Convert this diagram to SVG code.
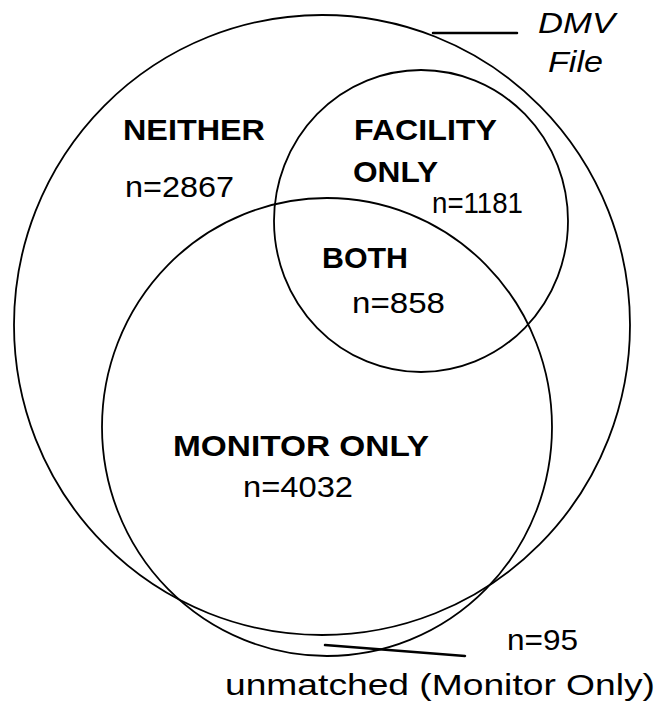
<svg xmlns="http://www.w3.org/2000/svg" width="657" height="706" viewBox="0 0 657 706">
<style>
.set{fill:none;stroke:#000;stroke-width:1.8}
.lead{stroke:#000;stroke-width:2.5;fill:none;stroke-linecap:round}
.b{font-family:"Liberation Sans",Arial,sans-serif;font-weight:bold;font-size:30px;fill:#000}
.n{font-family:"Liberation Sans",Arial,sans-serif;font-size:30px;fill:#000}
.it{font-family:"Liberation Sans",Arial,sans-serif;font-style:italic;font-size:29px;fill:#000}
</style>
<rect width="657" height="706" fill="#fff"/>
<g id="dmv-file">
<ellipse class="set" cx="322" cy="325" rx="308" ry="310"/>
<text class="it" x="538" y="33" textLength="77" lengthAdjust="spacingAndGlyphs">DMV</text>
<text class="it" x="548" y="72" textLength="55" lengthAdjust="spacingAndGlyphs">File</text>
</g>
<g id="facility">
<ellipse class="set" cx="421" cy="221" rx="147" ry="151"/>
</g>
<g id="monitor">
<ellipse class="set" cx="327" cy="427" rx="225" ry="229"/>
</g>
<g id="neither">
<text class="b" x="123" y="140" textLength="142" lengthAdjust="spacingAndGlyphs">NEITHER</text>
<text class="n" x="125" y="197" textLength="109" lengthAdjust="spacingAndGlyphs">n=2867</text>
</g>
<g id="facility-only">
<text class="b" x="354" y="140" textLength="143" lengthAdjust="spacingAndGlyphs">FACILITY</text>
<text class="b" x="353" y="182" textLength="85" lengthAdjust="spacingAndGlyphs">ONLY</text>
<text class="n" x="432" y="213" textLength="91" lengthAdjust="spacingAndGlyphs">n=1181</text>
</g>
<g id="both">
<text class="b" x="322" y="268" textLength="86" lengthAdjust="spacingAndGlyphs">BOTH</text>
<text class="n" x="352" y="313" textLength="93" lengthAdjust="spacingAndGlyphs">n=858</text>
</g>
<g id="monitor-only">
<text class="b" x="173" y="456" textLength="256" lengthAdjust="spacingAndGlyphs">MONITOR ONLY</text>
<text class="n" x="243" y="497" textLength="110" lengthAdjust="spacingAndGlyphs">n=4032</text>
</g>
<g id="unmatched">
<text class="n" x="507" y="650" textLength="71" lengthAdjust="spacingAndGlyphs">n=95</text>
<text class="n" x="225" y="695" textLength="430" lengthAdjust="spacingAndGlyphs">unmatched (Monitor Only)</text>
</g>
<g id="connectors">
<line class="lead" x1="433" y1="33" x2="517" y2="33"/>
<line class="lead" x1="325" y1="645" x2="465" y2="656"/>
</g>
</svg>
